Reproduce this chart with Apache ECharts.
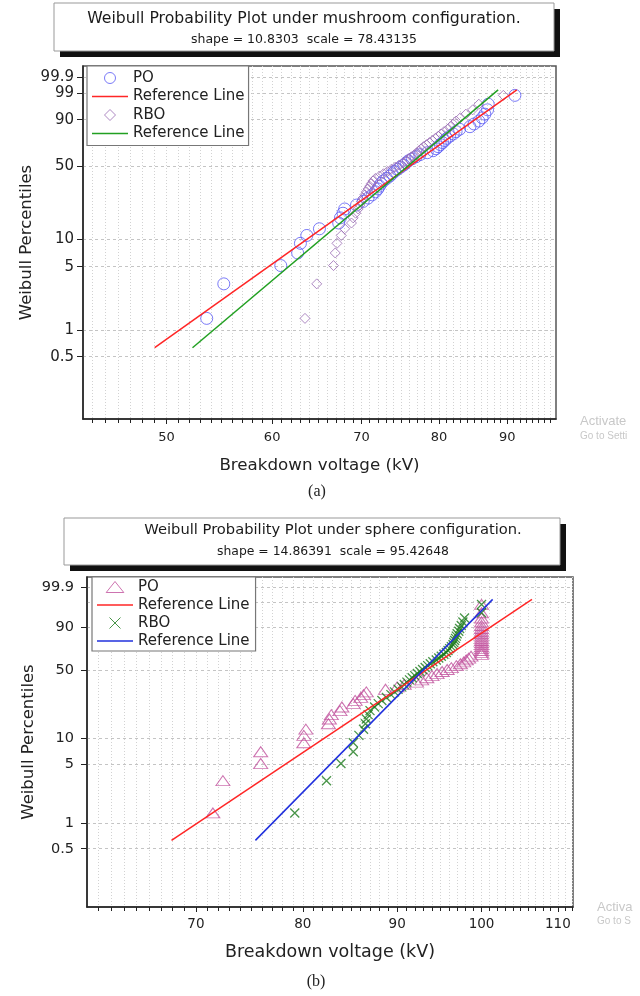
<!DOCTYPE html>
<html><head><meta charset="utf-8">
<script src="https://cdn.jsdelivr.net/npm/echarts@6/dist/echarts.min.js"></script>
<style>html,body{margin:0;padding:0;background:#fff}#c{width:640px;height:996px}</style>
</head><body><div id="c"></div>
<script>
// Percentile (median-rank) positions of the plotted points
const pctRanks = [1.34,3.24,5.15,7.06,8.97,10.88,12.79,14.69,16.60,18.51,20.42,22.33,24.24,26.15,28.05,29.96,31.87,33.78,35.69,37.60,39.50,41.41,43.32,45.23,47.14,49.05,50.95,52.86,54.77,56.68,58.59,60.50,62.40,64.31,66.22,68.13,70.04,71.95,73.85,75.76,77.67,79.58,81.49,83.40,85.31,87.21,89.12,91.03,92.94,94.85,96.76,98.66];
// (a) mushroom configuration, breakdown voltage kV
const poA = [53.6,55.2,60.9,62.7,63.0,63.7,65.1,67.3,67.5,67.8, 68.0,69.4,70.2,70.8,71.3,71.7,72.0,72.2,72.4,72.7, 73.1,73.5,73.8,74.1,74.5,74.9,75.3,75.6,75.9,76.4, 76.9,77.4,78.4,79.2,79.6,79.9,80.2,80.5,80.8,81.1, 81.5,82.0,82.4,82.9,84.4,85.0,85.7,86.2,86.6,87.0, 87.1,91.2];
const rboA = [63.5,64.8,66.7,66.9,67.1,67.6,68.0,68.8,69.0,69.3, 69.6,69.8,70.0,70.2,70.4,70.6,70.8,71.0,71.2,71.4, 71.7,72.2,72.7,73.2,73.7,74.2,74.7,75.2,75.7,75.9, 76.3,76.7,77.0,77.3,77.6,77.9,78.3,78.7,79.1,79.5, 79.9,80.3,80.7,81.2,81.6,82.0,82.4,83.0,83.8,84.8, 85.7,89.4];
// (b) sphere configuration
const poB = [71.5,72.4,75.9,75.9,80.1,80.1,80.3,82.6,82.7,82.9, 83.8,84.0,85.2,85.4,86.0,86.3,86.6,88.7,90.0,90.8, 92.2,92.8,93.4,94.0,94.6,95.2,95.8,96.3,96.9,97.4, 97.8,98.1,98.4,98.7,100,100,100,100,100,100, 100,100,100,100,100,100,100,100,100,100, 100,100];
const rboB = [79.2,82.4,83.9,85.2,85.2,85.8,86.3,86.5,86.6,86.8, 87.0,87.5,87.9,88.3,88.8,89.3,89.7,90.1,90.5,90.8, 91.1,91.4,91.7,92.0,92.3,92.6,92.9,93.2,93.5,93.8, 94.1,94.5,94.8,95.1,95.4,95.7,95.9,96.1,96.3,96.5, 96.6,96.7,96.8,96.9,97.0,97.2,97.3,97.5,97.7,97.9, 100,100];
// Reference lines: end points (kV) and their percentiles
const refPct = [0.63, 99.3];
const refA_PO = [49.0, 91.5];
const refA_RBO = [52.3, 88.6];
const refB_PO = [67.9, 106.5];
const refB_RBO = [75.4, 101.4];
// Tick labels
const yTickPct = [0.5, 1, 5, 10, 50, 90, 99, 99.9];
const xTicksA = [50, 60, 70, 80, 90];
const xTicksB = [70, 80, 90, 100, 110];

const FF = '"DejaVu Sans", Verdana, sans-serif';
const L = Math.log;
const W = p => Math.log(-Math.log(1 - p / 100));
const yT = yTickPct.map(W);

function xAxes(grid, min, max, majors, margin, nameGap, fs, nfs) {
  const minors = [];
  for (let v = Math.ceil(min); v <= Math.floor(max); v++) minors.push(L(v));
  return [{
    type: 'value', gridIndex: grid, min: L(min), max: L(max), position: 'bottom',
    name: 'Breakdown voltage (kV)', nameLocation: 'middle', nameGap: nameGap,
    nameTextStyle: { fontSize: nfs, color: '#222', fontFamily: FF },
    axisLine: { show: true, onZero: false, lineStyle: { color: '#222', width: 1.5 } },
    axisTick: { show: true, customValues: majors.map(L), length: 5, lineStyle: { color: '#222' } },
    axisLabel: { customValues: majors.map(L), hideOverlap: false, formatter: v => String(Math.round(Math.exp(v))), fontSize: fs, color: '#222', margin: margin, fontFamily: FF },
    splitLine: { show: false }
  }, {
    type: 'value', gridIndex: grid, min: L(min), max: L(max), position: 'bottom',
    axisLine: { show: false, onZero: false }, axisLabel: { show: false },
    axisTick: { show: true, customValues: minors, length: 4, lineStyle: { color: '#222' } },
    splitLine: { show: true, lineStyle: { color: '#d2d2d2', type: [1, 2], width: 1 } }
  }];
}
function yAxis(grid, margin, nameGap, fs) {
  return {
    type: 'value', gridIndex: grid, min: W(0.1), max: W(99.99),
    name: 'Weibull Percentiles', nameLocation: 'middle', nameGap: nameGap, nameMoveOverlap: false,
    nameTextStyle: { fontSize: 16.5, color: '#222', fontFamily: FF },
    axisLine: { show: true, onZero: false, lineStyle: { color: '#222', width: 1.5 } },
    axisTick: { show: true, customValues: yT, length: 6, lineStyle: { color: '#222' } },
    axisLabel: { customValues: yT, hideOverlap: false, showMinLabel: true, showMaxLabel: true, fontSize: fs, color: '#222', margin: margin, fontFamily: FF,
      formatter: v => { for (let i = 0; i < yT.length; i++) if (Math.abs(yT[i] - v) < 1e-6) return String(yTickPct[i]); return ''; } },
    splitLine: { show: true, lineStyle: { color: '#c4c4c4', type: [3, 3], width: 1 } }
  };
}
const pts = xs => xs.map((x, i) => [L(x), W(pctRanks[i])]);
const ref = xs => xs.map((x, i) => [L(x), W(refPct[i])]);
const clear = 'rgba(0,0,0,0)';
const TRI = 'path://M0,10L8,0L16,10Z';
const CROSS = 'path://M0,0L10,10M0,10L10,0';
const DIAM = 'path://M5,0L10,5L5,10L0,5Z';
const LINEICON = 'path://M0,0L36,0L36,1.6L0,1.6Z';

const series = [
  { type: 'scatter', name: 'PO', xAxisIndex: 0, yAxisIndex: 0, data: pts(poA), symbol: 'circle', symbolSize: 12,
    itemStyle: { color: clear, borderColor: '#5a5af5', borderWidth: 1 } },
  { type: 'line', name: 'Reference Line', xAxisIndex: 0, yAxisIndex: 0, data: ref(refA_PO), symbol: 'none',
    lineStyle: { color: '#ff2626', width: 1.5 }, itemStyle: { color: '#ff2626' } },
  { type: 'scatter', name: 'RBO', xAxisIndex: 0, yAxisIndex: 0, data: pts(rboA), symbol: DIAM, symbolSize: 10,
    itemStyle: { color: clear, borderColor: '#9a6cb4', borderWidth: 1 } },
  { type: 'line', name: 'Reference Line ', xAxisIndex: 0, yAxisIndex: 0, data: ref(refA_RBO), symbol: 'none',
    lineStyle: { color: '#22a022', width: 1.5 }, itemStyle: { color: '#22a022' } },
  { type: 'scatter', name: 'PO ', xAxisIndex: 2, yAxisIndex: 1, data: pts(poB), symbol: TRI, symbolSize: [14, 10],
    itemStyle: { color: clear, borderColor: '#c0509c', borderWidth: 1 } },
  { type: 'line', name: 'Reference Line  ', xAxisIndex: 2, yAxisIndex: 1, data: ref(refB_PO), symbol: 'none',
    lineStyle: { color: '#ff2626', width: 1.5 }, itemStyle: { color: '#ff2626' } },
  { type: 'scatter', name: 'RBO ', xAxisIndex: 2, yAxisIndex: 1, data: pts(rboB), symbol: CROSS, symbolSize: 9,
    itemStyle: { color: clear, borderColor: '#1c7a1c', borderWidth: 1.3 } },
  { type: 'line', name: 'Reference Line   ', xAxisIndex: 2, yAxisIndex: 1, data: ref(refB_RBO), symbol: 'none',
    lineStyle: { color: '#2030dd', width: 1.5 }, itemStyle: { color: '#2030dd' } }
];

function legend(items, left, top, pad, gap) {
  return {
    orient: 'vertical', left: left, top: top, data: items, formatter: n => n.trim(),
    itemWidth: 36, itemHeight: 11, itemGap: gap, padding: pad, selectedMode: false,
    borderColor: '#777', borderWidth: 1.2, backgroundColor: '#fff',
    textStyle: { fontSize: 15, color: '#222', lineHeight: 18, fontFamily: FF },
    itemStyle: { borderWidth: 1 }
  };
}

function titleBox(x, y, w, h, cx, l1, y1, f1, l2, y2, f2) {
  return [
    { type: 'rect', shape: { x: x + 6, y: y + 6, width: w, height: h }, style: { fill: '#111' } },
    { type: 'rect', shape: { x: x, y: y, width: w, height: h }, style: { fill: '#fff', stroke: '#999', lineWidth: 1 } },
    { type: 'text', x: cx, y: y1, style: { text: l1, fontSize: f1, fontFamily: FF, fill: '#1a1a1a', align: 'center', verticalAlign: 'middle' } },
    { type: 'text', x: cx, y: y2, style: { text: l2, fontSize: f2, fontFamily: FF, fill: '#1a1a1a', align: 'center', verticalAlign: 'middle' } }
  ];
}
const txt = (x, y, t, size, fill, fam, align) => ({ type: 'text', x: x, y: y,
  style: { text: t, fontSize: size, fontFamily: fam || FF, fill: fill, align: align || 'left', verticalAlign: 'middle' } });

const chart = echarts.init(document.getElementById('c'), null, { renderer: 'canvas' });
chart.setOption({
  animation: false,
  backgroundColor: '#fff',
  grid: [
    { left: 83, top: 66, width: 473, height: 353, show: true, borderColor: '#555', borderWidth: 1.5, backgroundColor: clear },
    { left: 87, top: 577, width: 486, height: 330, show: true, borderColor: '#555', borderWidth: 1.5, backgroundColor: clear }
  ],
  xAxis: [].concat(xAxes(0, 43.3, 97.9, xTicksA, 12, 38, 13, 16.7), xAxes(1, 61.1, 112.1, xTicksB, 10, 36, 13.5, 17.5)),
  yAxis: [yAxis(0, 9, 48, 15), yAxis(1, 13, 50, 14.5)],
  legend: [
    legend([{ name: 'PO', icon: 'circle' }, { name: 'Reference Line', icon: LINEICON }, { name: 'RBO', icon: DIAM }, { name: 'Reference Line ', icon: LINEICON }],
      87, 66, [3, 4, 3, 5], 0.5),
    legend([{ name: 'PO ', icon: TRI }, { name: 'Reference Line  ', icon: LINEICON }, { name: 'RBO ', icon: CROSS }, { name: 'Reference Line   ', icon: LINEICON }],
      92, 577, [1, 6, 1, 5], 0)
  ],
  graphic: [].concat(
    titleBox(54, 3, 500, 48, 304, 'Weibull Probability Plot under mushroom configuration.', 18.5, 15.7, 'shape = 10.8303  scale = 78.43135', 40, 12.5),
    titleBox(64, 518, 496, 47, 333, 'Weibull Probability Plot under sphere configuration.', 530.5, 14.7, 'shape = 14.86391  scale = 95.42648', 552, 12.4),
    [
      txt(317, 492, '(a)', 16, '#222', '"Liberation Serif", "Times New Roman", serif', 'center'),
      txt(316, 982, '(b)', 16, '#222', '"Liberation Serif", "Times New Roman", serif', 'center'),
      txt(580, 421.5, 'Activate', 13, '#c8c8c8', '"Liberation Sans", Arial, sans-serif'),
      txt(580, 436, 'Go to Setti', 10, '#c8c8c8', '"Liberation Sans", Arial, sans-serif'),
      txt(597, 907.5, 'Activa', 13, '#c8c8c8', '"Liberation Sans", Arial, sans-serif'),
      txt(597, 921.5, 'Go to S', 10, '#c8c8c8', '"Liberation Sans", Arial, sans-serif')
    ]
  ),
  series: series
});
</script></body></html>
